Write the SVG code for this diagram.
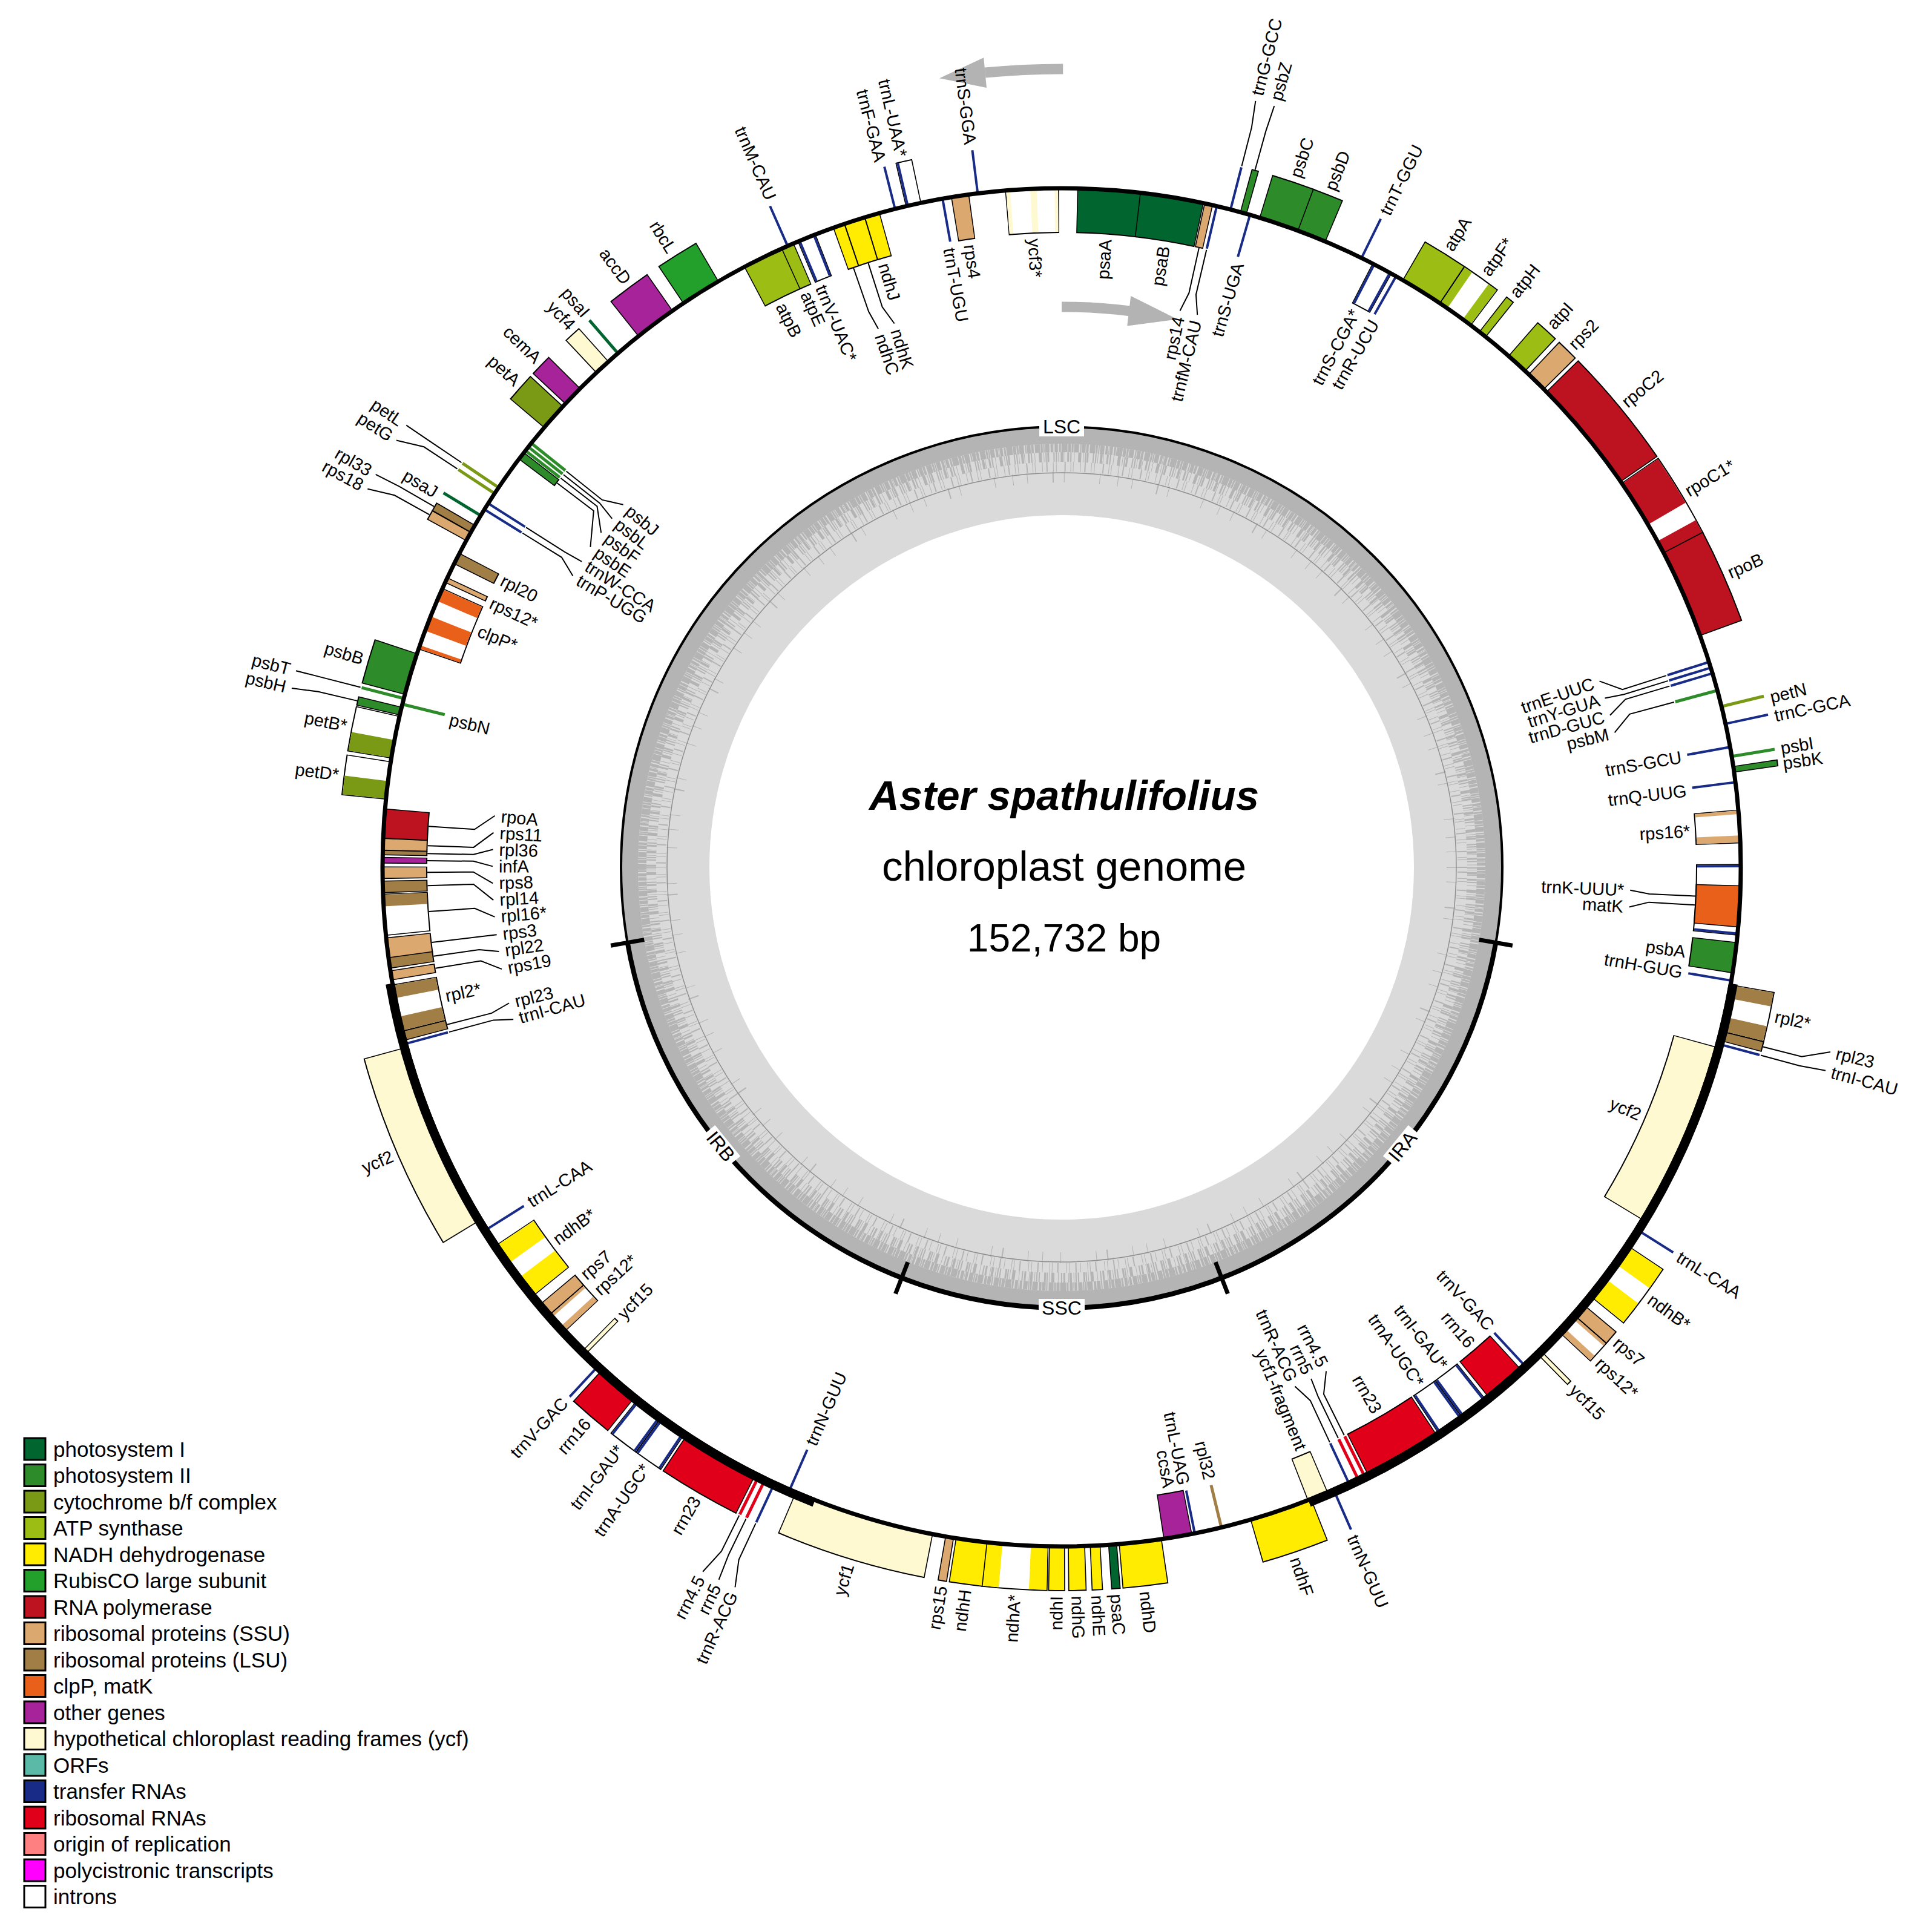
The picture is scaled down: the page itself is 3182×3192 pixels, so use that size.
<svg xmlns="http://www.w3.org/2000/svg" width="3182" height="3192" viewBox="0 0 3182 3192">
<style>
text{font-family:"Liberation Sans",Arial,Helvetica,sans-serif;font-size:29px;fill:#000;dominant-baseline:central}
.s{text-anchor:start}.e{text-anchor:end}.m{text-anchor:middle}
circle{fill:none}
.k{stroke:#000;stroke-width:76}
.f{stroke-width:72}
.PI{stroke:#00652e}.PII{stroke:#2e8b2a}.CY{stroke:#7a9a16}.AT{stroke:#9cbe14}.ND{stroke:#ffec00}.RB{stroke:#23a02b}.RP{stroke:#bd1321}.SS{stroke:#dba870}.LS{stroke:#a27e47}.CL{stroke:#e8601a}.OT{stroke:#a62399}.YC{stroke:#fff9d1}.RR{stroke:#e0001a}.W{stroke:#fff}.TR{stroke:#182b86}
line.t{stroke-width:4}
line.n{stroke-width:5}
.ld{fill:none;stroke:#000;stroke-width:2}
.rg{font-size:32px;text-anchor:middle}
.tt{font-size:69px;text-anchor:middle;dominant-baseline:alphabetic}
.lg{font-size:35px}
.lr{stroke:#000;stroke-width:3}
.dg{stroke:#b4b4b4}
</style>
<rect width="3182" height="3192" fill="#fff"/>
<g id="genome" transform="translate(1754 1433)">
<g id="gc">
<circle r="655" stroke="#dadada" stroke-width="146"/>
<circle r="714" class="dg" stroke-width="28"/>
<circle r="693" class="dg" stroke-width="14" stroke-dasharray="5 1 3 1 8 2 2 1 6 1 4 2 9 1 3 1 2 1 7 2 4 1 1 1 5 2 3 1 10 1"/>
<circle r="678" class="dg" stroke-width="16" stroke-dasharray="2 2 1 3 4 1 1 5 3 2 2 4 1 6 5 3 1 2 2 1 3 7 2 2"/>
<circle r="662" class="dg" stroke-width="16" stroke-dasharray="1 6 2 9 1 4 1 13 2 8 1 3 1 11"/>
<circle r="645" class="dg" stroke-width="18" stroke-dasharray="1 23 1 41 2 17 1 58 1 29"/>
<circle r="652" stroke="#8e8e8e" stroke-width="1.5"/>
</g>
<g id="inner-ring">
<circle r="728" stroke="#000" stroke-width="4"/>
<circle r="728" pathLength="360" stroke="#000" stroke-width="8" stroke-dasharray="160.32 360" transform="rotate(9.84)"/>
<line x1="0" y1="-700" x2="0" y2="-756" stroke="#000" stroke-width="7" transform="rotate(99.84)"/>
<line x1="0" y1="-700" x2="0" y2="-756" stroke="#000" stroke-width="7" transform="rotate(158.71)"/>
<line x1="0" y1="-700" x2="0" y2="-756" stroke="#000" stroke-width="7" transform="rotate(201.29)"/>
<line x1="0" y1="-700" x2="0" y2="-756" stroke="#000" stroke-width="7" transform="rotate(260.16)"/>
</g>
<g id="regions">
<g id="LSC"><rect x="-37" y="-744" width="74" height="32" fill="#fff"/><text class="rg" y="-728">LSC</text></g>
<g id="SSC"><rect x="-38" y="713" width="76" height="31" fill="#fff"/><text class="rg" y="728">SSC</text></g>
<g id="IRB" transform="rotate(50.7)"><rect x="-33" y="713" width="66" height="31" fill="#fff"/><text class="rg" y="728">IRB</text></g>
<g id="IRA" transform="rotate(-50.7)"><rect x="-33" y="713" width="66" height="31" fill="#fff"/><text class="rg" y="728">IRA</text></g>
</g>
<g id="arrows" fill="#b3b3b3">
<circle r="1319" pathLength="360" stroke="#b3b3b3" stroke-width="17" stroke-dasharray="5.6 360" transform="rotate(-95.5)"/>
<polygon transform="rotate(-5.5)" points="0,-1344 0,-1294 -76,-1317"/>
<circle r="926" pathLength="360" stroke="#b3b3b3" stroke-width="17" stroke-dasharray="7 360" transform="rotate(-90)"/>
<polygon transform="rotate(6.9)" points="0,-951 0,-901 81,-922"/>
</g>
<g id="genes">
<g id="ycf3"><circle r="1086" pathLength="360" class="k" stroke-dasharray="4.56 360" transform="rotate(-94.78)"/><circle r="1086" pathLength="360" class="f W" stroke-dasharray="4.4 360" transform="rotate(-94.7)"/><circle r="1086" pathLength="360" class="f YC" stroke-dasharray="0.35 360" transform="rotate(-94.7)"/><circle r="1086" pathLength="360" class="f YC" stroke-dasharray="0.55 360" transform="rotate(-92.65)"/><circle r="1086" pathLength="360" class="f YC" stroke-dasharray="0.3 360" transform="rotate(-90.6)"/><text class="s" x="-1040" transform="rotate(87.5)">ycf3*</text></g>
<g id="psaA"><circle r="1086" pathLength="360" class="k" stroke-dasharray="5.46 360" transform="rotate(-88.68)"/><circle r="1086" pathLength="360" class="f PI" stroke-dasharray="5.3 360" transform="rotate(-88.6)"/><text class="e" x="1040" transform="rotate(-86)">psaA</text></g>
<g id="psaB"><circle r="1086" pathLength="360" class="k" stroke-dasharray="5.46 360" transform="rotate(-83.38)"/><circle r="1086" pathLength="360" class="f PI" stroke-dasharray="5.3 360" transform="rotate(-83.3)"/><text class="e" x="1040" transform="rotate(-80.65)">psaB</text></g>
<g id="rps14"><circle r="1086" pathLength="360" class="k" stroke-dasharray="0.76 360" transform="rotate(-77.88)"/><circle r="1086" pathLength="360" class="f SS" stroke-dasharray="0.6 360" transform="rotate(-77.8)"/><text class="e" x="930" transform="rotate(-78)">rps14</text></g>
<g id="trnfM-CAU"><line class="t TR" y1="-1050" y2="-1122" transform="rotate(13.2)"/><text class="e" x="930" transform="rotate(-76.2)">trnfM-CAU</text></g>
<g id="trnG-GCC"><line class="t TR" y1="-1122" y2="-1194" transform="rotate(14.4)"/><text class="s" x="1316" transform="rotate(-75.8)">trnG-GCC</text></g>
<g id="psbZ"><circle r="1158" pathLength="360" class="k" stroke-dasharray="0.61 360" transform="rotate(-74.78)"/><circle r="1158" pathLength="360" class="f PII" stroke-dasharray="0.45 360" transform="rotate(-74.7)"/><text class="s" x="1316" transform="rotate(-74.4)">psbZ</text></g>
<g id="trnS-UGA"><line class="t TR" y1="-1050" y2="-1122" transform="rotate(16.1)"/><text class="e" x="1040" transform="rotate(-73.7)">trnS-UGA</text></g>
<g id="psbC"><circle r="1158" pathLength="360" class="k" stroke-dasharray="3.56 360" transform="rotate(-73.08)"/><circle r="1158" pathLength="360" class="f PII" stroke-dasharray="3.4 360" transform="rotate(-73)"/><text class="s" x="1204" transform="rotate(-71.3)">psbC</text></g>
<g id="psbD"><circle r="1158" pathLength="360" class="k" stroke-dasharray="2.56 360" transform="rotate(-69.68)"/><circle r="1158" pathLength="360" class="f PII" stroke-dasharray="2.4 360" transform="rotate(-69.6)"/><text class="s" x="1204" transform="rotate(-68.4)">psbD</text></g>
<g id="trnT-GGU"><line class="t TR" y1="-1122" y2="-1194" transform="rotate(26.2)"/><text class="s" x="1204" transform="rotate(-63.7)">trnT-GGU</text></g>
<g id="trnS-CGA"><circle r="1086" pathLength="360" class="k" stroke-dasharray="1.86 360" transform="rotate(-62.78)"/><circle r="1086" pathLength="360" class="f W" stroke-dasharray="1.7 360" transform="rotate(-62.7)"/><line class="t TR" y1="-1050" y2="-1122" transform="rotate(27.4)"/><line class="t TR" y1="-1050" y2="-1122" transform="rotate(28.9)"/><text class="e" x="1040" transform="rotate(-62.2)">trnS-CGA*</text></g>
<g id="trnR-UCU"><line class="t TR" y1="-1050" y2="-1122" transform="rotate(29.5)"/><text class="e" x="1040" transform="rotate(-60.2)">trnR-UCU</text></g>
<g id="atpA"><circle r="1158" pathLength="360" class="k" stroke-dasharray="3.76 360" transform="rotate(-59.88)"/><circle r="1158" pathLength="360" class="f AT" stroke-dasharray="3.6 360" transform="rotate(-59.8)"/><text class="s" x="1204" transform="rotate(-58)">atpA</text></g>
<g id="atpF"><circle r="1158" pathLength="360" class="k" stroke-dasharray="3.26 360" transform="rotate(-56.18)"/><circle r="1158" pathLength="360" class="f W" stroke-dasharray="3.1 360" transform="rotate(-56.1)"/><circle r="1158" pathLength="360" class="f AT" stroke-dasharray="0.7 360" transform="rotate(-56.1)"/><circle r="1158" pathLength="360" class="f AT" stroke-dasharray="0.8 360" transform="rotate(-53.8)"/><text class="s" x="1204" transform="rotate(-54.5)">atpF*</text></g>
<g id="atpH"><circle r="1158" pathLength="360" class="k" stroke-dasharray="0.76 360" transform="rotate(-52.08)"/><circle r="1158" pathLength="360" class="f AT" stroke-dasharray="0.6 360" transform="rotate(-52)"/><text class="s" x="1204" transform="rotate(-51.7)">atpH</text></g>
<g id="atpI"><circle r="1158" pathLength="360" class="k" stroke-dasharray="1.96 360" transform="rotate(-48.88)"/><circle r="1158" pathLength="360" class="f AT" stroke-dasharray="1.8 360" transform="rotate(-48.8)"/><text class="s" x="1204" transform="rotate(-47.9)">atpI</text></g>
<g id="rps2"><circle r="1158" pathLength="360" class="k" stroke-dasharray="1.86 360" transform="rotate(-46.58)"/><circle r="1158" pathLength="360" class="f SS" stroke-dasharray="1.7 360" transform="rotate(-46.5)"/><text class="s" x="1204" transform="rotate(-45.6)">rps2</text></g>
<g id="rpoC2"><circle r="1158" pathLength="360" class="k" stroke-dasharray="9.91 360" transform="rotate(-44.48)"/><circle r="1158" pathLength="360" class="f RP" stroke-dasharray="9.75 360" transform="rotate(-44.4)"/><text class="s" x="1204" transform="rotate(-39.5)">rpoC2</text></g>
<g id="rpoC1"><circle r="1158" pathLength="360" class="k" stroke-dasharray="6.96 360" transform="rotate(-34.48)"/><circle r="1158" pathLength="360" class="f W" stroke-dasharray="6.8 360" transform="rotate(-34.4)"/><circle r="1158" pathLength="360" class="f RP" stroke-dasharray="4.1 360" transform="rotate(-34.4)"/><circle r="1158" pathLength="360" class="f RP" stroke-dasharray="1.1 360" transform="rotate(-28.7)"/><text class="s" x="1204" transform="rotate(-31)">rpoC1*</text></g>
<g id="rpoB"><circle r="1158" pathLength="360" class="k" stroke-dasharray="7.71 360" transform="rotate(-27.63)"/><circle r="1158" pathLength="360" class="f RP" stroke-dasharray="7.55 360" transform="rotate(-27.55)"/><text class="s" x="1204" transform="rotate(-23.8)">rpoB</text></g>
<g id="trnE-UUC"><line class="t TR" y1="-1050" y2="-1122" transform="rotate(72.4)"/><text class="e" x="930" transform="rotate(-19.1)">trnE-UUC</text></g>
<g id="trnY-GUA"><line class="t TR" y1="-1050" y2="-1122" transform="rotate(72.9)"/><text class="e" x="930" transform="rotate(-17.3)">trnY-GUA</text></g>
<g id="trnD-GUC"><line class="t TR" y1="-1050" y2="-1122" transform="rotate(73.4)"/><text class="e" x="930" transform="rotate(-15.5)">trnD-GUC</text></g>
<g id="psbM"><line class="n PII" y1="-1050" y2="-1122" transform="rotate(74.9)"/><text class="e" x="930" transform="rotate(-13.7)">psbM</text></g>
<g id="petN"><line class="n CY" y1="-1122" y2="-1194" transform="rotate(76.3)"/><text class="s" x="1204" transform="rotate(-13.5)">petN</text></g>
<g id="trnC-GCA"><line class="t TR" y1="-1122" y2="-1194" transform="rotate(77.8)"/><text class="s" x="1204" transform="rotate(-12)">trnC-GCA</text></g>
<g id="trnS-GCU"><line class="t TR" y1="-1050" y2="-1122" transform="rotate(79.8)"/><text class="e" x="1040" transform="rotate(-10.1)">trnS-GCU</text></g>
<g id="psbI"><line class="n PII" y1="-1122" y2="-1194" transform="rotate(80.6)"/><text class="s" x="1204" transform="rotate(-9.4)">psbI</text></g>
<g id="psbK"><circle r="1158" pathLength="360" class="k" stroke-dasharray="0.56 360" transform="rotate(-8.58)"/><circle r="1158" pathLength="360" class="f PII" stroke-dasharray="0.4 360" transform="rotate(-8.5)"/><text class="s" x="1204" transform="rotate(-8.2)">psbK</text></g>
<g id="trnQ-UUG"><line class="t TR" y1="-1050" y2="-1122" transform="rotate(82.8)"/><text class="e" x="1040" transform="rotate(-7)">trnQ-UUG</text></g>
<g id="rps16"><circle r="1086" pathLength="360" class="k" stroke-dasharray="2.86 360" transform="rotate(-4.88)"/><circle r="1086" pathLength="360" class="f W" stroke-dasharray="2.7 360" transform="rotate(-4.8)"/><circle r="1086" pathLength="360" class="f SS" stroke-dasharray="0.3 360" transform="rotate(-4.8)"/><circle r="1086" pathLength="360" class="f SS" stroke-dasharray="0.6 360" transform="rotate(-2.7)"/><text class="e" x="1040" transform="rotate(-3.3)">rps16*</text></g>
<g id="trnK-UUU"><circle r="1086" pathLength="360" class="k" stroke-dasharray="6.06 360" transform="rotate(-0.28)"/><circle r="1086" pathLength="360" class="f W" stroke-dasharray="5.9 360" transform="rotate(-0.2)"/><line class="t TR" y1="-1050" y2="-1122" transform="rotate(89.9)"/><line class="t TR" y1="-1050" y2="-1122" transform="rotate(95.6)"/><text class="e" x="930" transform="rotate(2.3)">trnK-UUU*</text></g>
<g id="matK"><circle r="1086" pathLength="360" class="k" stroke-dasharray="3.56 360" transform="rotate(1.52)"/><circle r="1086" pathLength="360" class="f CL" stroke-dasharray="3.4 360" transform="rotate(1.6)"/><text class="e" x="930" transform="rotate(4)">matK</text></g>
<g id="psbA"><circle r="1086" pathLength="360" class="k" stroke-dasharray="2.66 360" transform="rotate(6.32)"/><circle r="1086" pathLength="360" class="f PII" stroke-dasharray="2.5 360" transform="rotate(6.4)"/><text class="e" x="1040" transform="rotate(7.7)">psbA</text></g>
<g id="trnH-GUG"><line class="t TR" y1="-1050" y2="-1122" transform="rotate(99.6)"/><text class="e" x="1040" transform="rotate(9.6)">trnH-GUG</text></g>
<g id="rpl2-A"><circle r="1158" pathLength="360" class="k" stroke-dasharray="4.06 360" transform="rotate(9.92)"/><circle r="1158" pathLength="360" class="f W" stroke-dasharray="3.9 360" transform="rotate(10)"/><circle r="1158" pathLength="360" class="f LS" stroke-dasharray="1.1 360" transform="rotate(10)"/><circle r="1158" pathLength="360" class="f LS" stroke-dasharray="1.2 360" transform="rotate(12.7)"/><text class="s" x="1204" transform="rotate(11.8)">rpl2*</text></g>
<g id="rpl23-A"><circle r="1158" pathLength="360" class="k" stroke-dasharray="0.86 360" transform="rotate(13.92)"/><circle r="1158" pathLength="360" class="f LS" stroke-dasharray="0.7 360" transform="rotate(14)"/><text class="s" x="1316" transform="rotate(13.5)">rpl23</text></g>
<g id="trnI-CAU-A"><line class="t TR" y1="-1122" y2="-1194" transform="rotate(105.05)"/><text class="s" x="1316" transform="rotate(14.9)">trnI-CAU</text></g>
<g id="ycf2-A"><circle r="1086" pathLength="360" class="k" stroke-dasharray="15.96 360" transform="rotate(15.32)"/><circle r="1086" pathLength="360" class="f YC" stroke-dasharray="15.8 360" transform="rotate(15.4)"/><text class="e" x="1040" transform="rotate(23.2)">ycf2</text></g>
<g id="trnL-CAA-A"><line class="t TR" y1="-1122" y2="-1194" transform="rotate(122.2)"/><text class="s" x="1204" transform="rotate(32.2)">trnL-CAA</text></g>
<g id="ndhB-A"><circle r="1158" pathLength="360" class="k" stroke-dasharray="5.36 360" transform="rotate(33.72)"/><circle r="1158" pathLength="360" class="f W" stroke-dasharray="5.2 360" transform="rotate(33.8)"/><circle r="1158" pathLength="360" class="f ND" stroke-dasharray="1.8 360" transform="rotate(33.8)"/><circle r="1158" pathLength="360" class="f ND" stroke-dasharray="1.9 360" transform="rotate(37.1)"/><text class="s" x="1204" transform="rotate(36.2)">ndhB*</text></g>
<g id="rps7-A"><circle r="1158" pathLength="360" class="k" stroke-dasharray="1.26 360" transform="rotate(39.92)"/><circle r="1158" pathLength="360" class="f SS" stroke-dasharray="1.1 360" transform="rotate(40)"/><text class="s" x="1204" transform="rotate(40.5)">rps7</text></g>
<g id="rps12-A"><circle r="1158" pathLength="360" class="k" stroke-dasharray="1.96 360" transform="rotate(41.12)"/><circle r="1158" pathLength="360" class="f W" stroke-dasharray="1.8 360" transform="rotate(41.2)"/><circle r="1158" pathLength="360" class="f SS" stroke-dasharray="0.25 360" transform="rotate(41.2)"/><circle r="1158" pathLength="360" class="f SS" stroke-dasharray="0.5 360" transform="rotate(42.5)"/><text class="s" x="1204" transform="rotate(42.6)">rps12*</text></g>
<g id="ycf15-A"><circle r="1158" pathLength="360" class="k" stroke-dasharray="0.46 360" transform="rotate(45.22)"/><circle r="1158" pathLength="360" class="f YC" stroke-dasharray="0.3 360" transform="rotate(45.3)"/><text class="s" x="1204" transform="rotate(45.5)">ycf15</text></g>
<g id="trnV-GAC-A"><line class="t TR" y1="-1050" y2="-1122" transform="rotate(137.1)"/><text class="e" x="1040" transform="rotate(47)">trnV-GAC</text></g>
<g id="rrn16-A"><circle r="1086" pathLength="360" class="k" stroke-dasharray="3.66 360" transform="rotate(47.52)"/><circle r="1086" pathLength="360" class="f RR" stroke-dasharray="3.5 360" transform="rotate(47.6)"/><text class="e" x="1040" transform="rotate(49.4)">rrn16</text></g>
<g id="trnI-GAU-A"><circle r="1086" pathLength="360" class="k" stroke-dasharray="2.56 360" transform="rotate(51.42)"/><circle r="1086" pathLength="360" class="f W" stroke-dasharray="2.4 360" transform="rotate(51.5)"/><line class="t TR" y1="-1050" y2="-1122" transform="rotate(141.6)"/><line class="t TR" y1="-1050" y2="-1122" transform="rotate(143.8)"/><text class="e" x="1040" transform="rotate(52.6)">trnI-GAU*</text></g>
<g id="trnA-UGC-A"><circle r="1086" pathLength="360" class="k" stroke-dasharray="2.46 360" transform="rotate(53.92)"/><circle r="1086" pathLength="360" class="f W" stroke-dasharray="2.3 360" transform="rotate(54)"/><line class="t TR" y1="-1050" y2="-1122" transform="rotate(144.1)"/><line class="t TR" y1="-1050" y2="-1122" transform="rotate(146.2)"/><text class="e" x="1040" transform="rotate(55.3)">trnA-UGC*</text></g>
<g id="rrn23-A"><circle r="1086" pathLength="360" class="k" stroke-dasharray="6.76 360" transform="rotate(56.52)"/><circle r="1086" pathLength="360" class="f RR" stroke-dasharray="6.6 360" transform="rotate(56.6)"/><text class="e" x="1040" transform="rotate(59.9)">rrn23</text></g>
<g id="rrn4.5-A"><line class="n RR" y1="-1050" y2="-1122" transform="rotate(153.55)"/><text class="e" x="930" transform="rotate(62.3)">rrn4.5</text></g>
<g id="rrn5-A"><line class="n RR" y1="-1050" y2="-1122" transform="rotate(154.15)"/><text class="e" x="930" transform="rotate(64)">rrn5</text></g>
<g id="trnR-ACG-A"><line class="t TR" y1="-1050" y2="-1122" transform="rotate(155)"/><text class="e" x="930" transform="rotate(65.8)">trnR-ACG</text></g>
<g id="trnN-GUU-A"><line class="t TR" y1="-1122" y2="-1194" transform="rotate(156.4)"/><text class="s" x="1204" transform="rotate(66.5)">trnN-GUU</text></g>
<g id="ycf1-fragment"><circle r="1086" pathLength="360" class="k" stroke-dasharray="1.86 360" transform="rotate(66.92)"/><circle r="1086" pathLength="360" class="f YC" stroke-dasharray="1.7 360" transform="rotate(67)"/><text class="e" x="1040" transform="rotate(67.6)">ycf1-fragment</text></g>
<g id="ndhF"><circle r="1158" pathLength="360" class="k" stroke-dasharray="5.46 360" transform="rotate(68.42)"/><circle r="1158" pathLength="360" class="f ND" stroke-dasharray="5.3 360" transform="rotate(68.5)"/><text class="s" x="1204" transform="rotate(71.3)">ndhF</text></g>
<g id="rpl32"><line class="n LS" y1="-1050" y2="-1122" transform="rotate(166.4)"/><text class="e" x="1040" transform="rotate(76.4)">rpl32</text></g>
<g id="trnL-UAG"><line class="t TR" y1="-1050" y2="-1122" transform="rotate(168.7)"/><text class="e" x="1040" transform="rotate(78.8)">trnL-UAG</text></g>
<g id="ccsA"><circle r="1086" pathLength="360" class="k" stroke-dasharray="2.46 360" transform="rotate(78.92)"/><circle r="1086" pathLength="360" class="f OT" stroke-dasharray="2.3 360" transform="rotate(79)"/><text class="e" x="1040" transform="rotate(80.2)">ccsA</text></g>
<g id="ndhD"><circle r="1158" pathLength="360" class="k" stroke-dasharray="3.66 360" transform="rotate(81.52)"/><circle r="1158" pathLength="360" class="f ND" stroke-dasharray="3.5 360" transform="rotate(81.6)"/><text class="s" x="1204" transform="rotate(83.4)">ndhD</text></g>
<g id="psaC"><circle r="1158" pathLength="360" class="k" stroke-dasharray="0.76 360" transform="rotate(85.32)"/><circle r="1158" pathLength="360" class="f PI" stroke-dasharray="0.6 360" transform="rotate(85.4)"/><text class="s" x="1204" transform="rotate(85.7)">psaC</text></g>
<g id="ndhE"><circle r="1158" pathLength="360" class="k" stroke-dasharray="0.91 360" transform="rotate(86.72)"/><circle r="1158" pathLength="360" class="f ND" stroke-dasharray="0.75 360" transform="rotate(86.8)"/><text class="s" x="1204" transform="rotate(87.2)">ndhE</text></g>
<g id="ndhG"><circle r="1158" pathLength="360" class="k" stroke-dasharray="1.46 360" transform="rotate(88.02)"/><circle r="1158" pathLength="360" class="f ND" stroke-dasharray="1.3 360" transform="rotate(88.1)"/><text class="s" x="1204" transform="rotate(88.75)">ndhG</text></g>
<g id="ndhI"><circle r="1158" pathLength="360" class="k" stroke-dasharray="1.36 360" transform="rotate(89.72)"/><circle r="1158" pathLength="360" class="f ND" stroke-dasharray="1.2 360" transform="rotate(89.8)"/><text class="e" x="-1204" transform="rotate(-89.6)">ndhI</text></g>
<g id="ndhA"><circle r="1158" pathLength="360" class="k" stroke-dasharray="5.26 360" transform="rotate(91.12)"/><circle r="1158" pathLength="360" class="f W" stroke-dasharray="5.1 360" transform="rotate(91.2)"/><circle r="1158" pathLength="360" class="f ND" stroke-dasharray="1.4 360" transform="rotate(91.2)"/><circle r="1158" pathLength="360" class="f ND" stroke-dasharray="1.3 360" transform="rotate(95)"/><text class="e" x="-1204" transform="rotate(-86.3)">ndhA*</text></g>
<g id="ndhH"><circle r="1158" pathLength="360" class="k" stroke-dasharray="2.71 360" transform="rotate(96.27)"/><circle r="1158" pathLength="360" class="f ND" stroke-dasharray="2.55 360" transform="rotate(96.35)"/><text class="e" x="-1204" transform="rotate(-82.4)">ndhH</text></g>
<g id="rps15"><circle r="1158" pathLength="360" class="k" stroke-dasharray="0.76 360" transform="rotate(99.12)"/><circle r="1158" pathLength="360" class="f SS" stroke-dasharray="0.6 360" transform="rotate(99.2)"/><text class="e" x="-1204" transform="rotate(-80.5)">rps15</text></g>
<g id="ycf1"><circle r="1158" pathLength="360" class="k" stroke-dasharray="12.16 360" transform="rotate(100.92)"/><circle r="1158" pathLength="360" class="f YC" stroke-dasharray="12 360" transform="rotate(101)"/><text class="e" x="-1204" transform="rotate(-73)">ycf1</text></g>
<g id="trnN-GUU-B"><line class="t TR" y1="-1050" y2="-1122" transform="rotate(203.6)"/><text class="s" x="-1040" transform="rotate(-66.5)">trnN-GUU</text></g>
<g id="trnR-ACG-B"><line class="t TR" y1="-1122" y2="-1194" transform="rotate(205)"/><text class="e" x="-1316" transform="rotate(-65.6)">trnR-ACG</text></g>
<g id="rrn5-B"><line class="n RR" y1="-1122" y2="-1194" transform="rotate(205.85)"/><text class="e" x="-1316" transform="rotate(-64.3)">rrn5</text></g>
<g id="rrn4.5-B"><line class="n RR" y1="-1122" y2="-1194" transform="rotate(206.45)"/><text class="e" x="-1316" transform="rotate(-63)">rrn4.5</text></g>
<g id="rrn23-B"><circle r="1158" pathLength="360" class="k" stroke-dasharray="6.76 360" transform="rotate(116.72)"/><circle r="1158" pathLength="360" class="f RR" stroke-dasharray="6.6 360" transform="rotate(116.8)"/><text class="e" x="-1204" transform="rotate(-59.9)">rrn23</text></g>
<g id="trnA-UGC-B"><circle r="1158" pathLength="360" class="k" stroke-dasharray="2.46 360" transform="rotate(123.62)"/><circle r="1158" pathLength="360" class="f W" stroke-dasharray="2.3 360" transform="rotate(123.7)"/><line class="t TR" y1="-1122" y2="-1194" transform="rotate(213.8)"/><line class="t TR" y1="-1122" y2="-1194" transform="rotate(215.9)"/><text class="e" x="-1204" transform="rotate(-55.2)">trnA-UGC*</text></g>
<g id="trnI-GAU-B"><circle r="1158" pathLength="360" class="k" stroke-dasharray="2.56 360" transform="rotate(126.02)"/><circle r="1158" pathLength="360" class="f W" stroke-dasharray="2.4 360" transform="rotate(126.1)"/><line class="t TR" y1="-1122" y2="-1194" transform="rotate(216.2)"/><line class="t TR" y1="-1122" y2="-1194" transform="rotate(218.4)"/><text class="e" x="-1204" transform="rotate(-52.7)">trnI-GAU*</text></g>
<g id="rrn16-B"><circle r="1158" pathLength="360" class="k" stroke-dasharray="3.66 360" transform="rotate(128.82)"/><circle r="1158" pathLength="360" class="f RR" stroke-dasharray="3.5 360" transform="rotate(128.9)"/><text class="e" x="-1204" transform="rotate(-49.4)">rrn16</text></g>
<g id="trnV-GAC-B"><line class="t TR" y1="-1122" y2="-1194" transform="rotate(222.9)"/><text class="e" x="-1204" transform="rotate(-47)">trnV-GAC</text></g>
<g id="ycf15-B"><circle r="1086" pathLength="360" class="k" stroke-dasharray="0.46 360" transform="rotate(134.32)"/><circle r="1086" pathLength="360" class="f YC" stroke-dasharray="0.3 360" transform="rotate(134.4)"/><text class="s" x="-1040" transform="rotate(-45.5)">ycf15</text></g>
<g id="rps12-B"><circle r="1086" pathLength="360" class="k" stroke-dasharray="1.96 360" transform="rotate(136.92)"/><circle r="1086" pathLength="360" class="f W" stroke-dasharray="1.8 360" transform="rotate(137)"/><circle r="1086" pathLength="360" class="f SS" stroke-dasharray="0.5 360" transform="rotate(137)"/><circle r="1086" pathLength="360" class="f SS" stroke-dasharray="0.25 360" transform="rotate(138.55)"/><text class="s" x="-1040" transform="rotate(-42.4)">rps12*</text></g>
<g id="rps7-B"><circle r="1086" pathLength="360" class="k" stroke-dasharray="1.26 360" transform="rotate(138.82)"/><circle r="1086" pathLength="360" class="f SS" stroke-dasharray="1.1 360" transform="rotate(138.9)"/><text class="s" x="-1040" transform="rotate(-40.5)">rps7</text></g>
<g id="ndhB-B"><circle r="1086" pathLength="360" class="k" stroke-dasharray="5.36 360" transform="rotate(140.92)"/><circle r="1086" pathLength="360" class="f W" stroke-dasharray="5.2 360" transform="rotate(141)"/><circle r="1086" pathLength="360" class="f ND" stroke-dasharray="1.9 360" transform="rotate(141)"/><circle r="1086" pathLength="360" class="f ND" stroke-dasharray="1.8 360" transform="rotate(144.4)"/><text class="s" x="-1040" transform="rotate(-36.4)">ndhB*</text></g>
<g id="trnL-CAA-B"><line class="t TR" y1="-1050" y2="-1122" transform="rotate(237.8)"/><text class="s" x="-1040" transform="rotate(-32.2)">trnL-CAA</text></g>
<g id="ycf2-B"><circle r="1158" pathLength="360" class="k" stroke-dasharray="15.96 360" transform="rotate(148.72)"/><circle r="1158" pathLength="360" class="f YC" stroke-dasharray="15.8 360" transform="rotate(148.8)"/><text class="e" x="-1204" transform="rotate(-23.3)">ycf2</text></g>
<g id="trnI-CAU-B"><line class="t TR" y1="-1050" y2="-1122" transform="rotate(254.95)"/><text class="s" x="-930" transform="rotate(-15.5)">trnI-CAU</text></g>
<g id="rpl23-B"><circle r="1086" pathLength="360" class="k" stroke-dasharray="0.86 360" transform="rotate(165.22)"/><circle r="1086" pathLength="360" class="f LS" stroke-dasharray="0.7 360" transform="rotate(165.3)"/><text class="s" x="-930" transform="rotate(-13.8)">rpl23</text></g>
<g id="rpl2-B"><circle r="1086" pathLength="360" class="k" stroke-dasharray="4.06 360" transform="rotate(166.02)"/><circle r="1086" pathLength="360" class="f W" stroke-dasharray="3.9 360" transform="rotate(166.1)"/><circle r="1086" pathLength="360" class="f LS" stroke-dasharray="1.2 360" transform="rotate(166.1)"/><circle r="1086" pathLength="360" class="f LS" stroke-dasharray="1.1 360" transform="rotate(168.9)"/><text class="s" x="-1040" transform="rotate(-11.8)">rpl2*</text></g>
<g id="rps19"><circle r="1086" pathLength="360" class="k" stroke-dasharray="0.86 360" transform="rotate(170.42)"/><circle r="1086" pathLength="360" class="f SS" stroke-dasharray="0.7 360" transform="rotate(170.5)"/><text class="s" x="-930" transform="rotate(-10.3)">rps19</text></g>
<g id="rpl22"><circle r="1086" pathLength="360" class="k" stroke-dasharray="1.06 360" transform="rotate(171.42)"/><circle r="1086" pathLength="360" class="f LS" stroke-dasharray="0.9 360" transform="rotate(171.5)"/><text class="s" x="-930" transform="rotate(-8.5)">rpl22</text></g>
<g id="rps3"><circle r="1086" pathLength="360" class="k" stroke-dasharray="1.76 360" transform="rotate(172.32)"/><circle r="1086" pathLength="360" class="f SS" stroke-dasharray="1.6 360" transform="rotate(172.4)"/><text class="s" x="-930" transform="rotate(-6.8)">rps3</text></g>
<g id="rpl16"><circle r="1086" pathLength="360" class="k" stroke-dasharray="3.56 360" transform="rotate(174.22)"/><circle r="1086" pathLength="360" class="f W" stroke-dasharray="3.4 360" transform="rotate(174.3)"/><circle r="1086" pathLength="360" class="f LS" stroke-dasharray="1 360" transform="rotate(176.7)"/><text class="s" x="-930" transform="rotate(-5)">rpl16*</text></g>
<g id="rpl14"><circle r="1086" pathLength="360" class="k" stroke-dasharray="1.06 360" transform="rotate(177.82)"/><circle r="1086" pathLength="360" class="f LS" stroke-dasharray="0.9 360" transform="rotate(177.9)"/><text class="s" x="-930" transform="rotate(-3.3)">rpl14</text></g>
<g id="rps8"><circle r="1086" pathLength="360" class="k" stroke-dasharray="1.06 360" transform="rotate(179.02)"/><circle r="1086" pathLength="360" class="f SS" stroke-dasharray="0.9 360" transform="rotate(179.1)"/><text class="s" x="-930" transform="rotate(-1.6)">rps8</text></g>
<g id="infA"><circle r="1086" pathLength="360" class="k" stroke-dasharray="0.56 360" transform="rotate(180.32)"/><circle r="1086" pathLength="360" class="f OT" stroke-dasharray="0.4 360" transform="rotate(180.4)"/><text class="s" x="-930" transform="rotate(0.1)">infA</text></g>
<g id="rpl36"><circle r="1086" pathLength="360" class="k" stroke-dasharray="0.46 360" transform="rotate(181.02)"/><circle r="1086" pathLength="360" class="f LS" stroke-dasharray="0.3 360" transform="rotate(181.1)"/><text class="s" x="-930" transform="rotate(1.8)">rpl36</text></g>
<g id="rps11"><circle r="1086" pathLength="360" class="k" stroke-dasharray="1.06 360" transform="rotate(181.42)"/><circle r="1086" pathLength="360" class="f SS" stroke-dasharray="0.9 360" transform="rotate(181.5)"/><text class="s" x="-930" transform="rotate(3.5)">rps11</text></g>
<g id="rpoA"><circle r="1086" pathLength="360" class="k" stroke-dasharray="2.56 360" transform="rotate(182.42)"/><circle r="1086" pathLength="360" class="f RP" stroke-dasharray="2.4 360" transform="rotate(182.5)"/><text class="s" x="-930" transform="rotate(5.2)">rpoA</text></g>
<g id="petD"><circle r="1158" pathLength="360" class="k" stroke-dasharray="3.26 360" transform="rotate(185.72)"/><circle r="1158" pathLength="360" class="f W" stroke-dasharray="3.1 360" transform="rotate(185.8)"/><circle r="1158" pathLength="360" class="f CY" stroke-dasharray="1.5 360" transform="rotate(185.8)"/><text class="e" x="-1204" transform="rotate(7.3)">petD*</text></g>
<g id="petB"><circle r="1158" pathLength="360" class="k" stroke-dasharray="3.66 360" transform="rotate(189.22)"/><circle r="1158" pathLength="360" class="f W" stroke-dasharray="3.5 360" transform="rotate(189.3)"/><circle r="1158" pathLength="360" class="f CY" stroke-dasharray="1.5 360" transform="rotate(189.3)"/><text class="e" x="-1204" transform="rotate(11.2)">petB*</text></g>
<g id="psbH"><circle r="1158" pathLength="360" class="k" stroke-dasharray="0.76 360" transform="rotate(192.92)"/><circle r="1158" pathLength="360" class="f PII" stroke-dasharray="0.6 360" transform="rotate(193)"/><text class="e" x="-1316" transform="rotate(13.1)">psbH</text></g>
<g id="psbN"><line class="n PII" y1="-1050" y2="-1122" transform="rotate(283.9)"/><text class="s" x="-1040" transform="rotate(13.6)">psbN</text></g>
<g id="psbT"><line class="n PII" y1="-1122" y2="-1194" transform="rotate(284.4)"/><text class="e" x="-1316" transform="rotate(14.4)">psbT</text></g>
<g id="psbB"><circle r="1158" pathLength="360" class="k" stroke-dasharray="3.66 360" transform="rotate(194.72)"/><circle r="1158" pathLength="360" class="f PII" stroke-dasharray="3.5 360" transform="rotate(194.8)"/><text class="e" x="-1204" transform="rotate(16.6)">psbB</text></g>
<g id="clpP"><circle r="1086" pathLength="360" class="k" stroke-dasharray="5.56 360" transform="rotate(198.72)"/><circle r="1086" pathLength="360" class="f W" stroke-dasharray="5.4 360" transform="rotate(198.8)"/><circle r="1086" pathLength="360" class="f CL" stroke-dasharray="0.3 360" transform="rotate(198.8)"/><circle r="1086" pathLength="360" class="f CL" stroke-dasharray="1.3 360" transform="rotate(200.4)"/><circle r="1086" pathLength="360" class="f CL" stroke-dasharray="1.1 360" transform="rotate(203.1)"/><text class="s" x="-1040" transform="rotate(22.1)">clpP*</text></g>
<g id="rps12-5"><circle r="1086" pathLength="360" class="k" stroke-dasharray="0.51 360" transform="rotate(204.77)"/><circle r="1086" pathLength="360" class="f SS" stroke-dasharray="0.35 360" transform="rotate(204.85)"/><text class="s" x="-1040" transform="rotate(24.9)">rps12*</text></g>
<g id="rpl20"><circle r="1086" pathLength="360" class="k" stroke-dasharray="1.06 360" transform="rotate(206.52)"/><circle r="1086" pathLength="360" class="f LS" stroke-dasharray="0.9 360" transform="rotate(206.6)"/><text class="s" x="-1040" transform="rotate(27.2)">rpl20</text></g>
<g id="rps18"><circle r="1158" pathLength="360" class="k" stroke-dasharray="0.86 360" transform="rotate(208.72)"/><circle r="1158" pathLength="360" class="f SS" stroke-dasharray="0.7 360" transform="rotate(208.8)"/><text class="e" x="-1316" transform="rotate(28.6)">rps18</text></g>
<g id="rpl33"><circle r="1158" pathLength="360" class="k" stroke-dasharray="0.76 360" transform="rotate(209.52)"/><circle r="1158" pathLength="360" class="f LS" stroke-dasharray="0.6 360" transform="rotate(209.6)"/><text class="e" x="-1316" transform="rotate(29.8)">rpl33</text></g>
<g id="psaJ"><line class="n PI" y1="-1122" y2="-1194" transform="rotate(301.2)"/><text class="e" x="-1204" transform="rotate(30.9)">psaJ</text></g>
<g id="trnP-UGG"><line class="t TR" y1="-1050" y2="-1122" transform="rotate(301.8)"/><text class="s" x="-930" transform="rotate(30.8)">trnP-UGG</text></g>
<g id="trnW-CCA"><line class="t TR" y1="-1050" y2="-1122" transform="rotate(302.4)"/><text class="s" x="-930" transform="rotate(32.5)">trnW-CCA</text></g>
<g id="petG"><line class="n CY" y1="-1122" y2="-1194" transform="rotate(303.4)"/><text class="e" x="-1316" transform="rotate(32.7)">petG</text></g>
<g id="petL"><line class="n CY" y1="-1122" y2="-1194" transform="rotate(304)"/><text class="e" x="-1316" transform="rotate(34)">petL</text></g>
<g id="psbE"><circle r="1086" pathLength="360" class="k" stroke-dasharray="0.76 360" transform="rotate(216.92)"/><circle r="1086" pathLength="360" class="f PII" stroke-dasharray="0.6 360" transform="rotate(217)"/><text class="s" x="-930" transform="rotate(34.2)">psbE</text></g>
<g id="psbF"><line class="n PII" y1="-1050" y2="-1122" transform="rotate(307.85)"/><text class="s" x="-930" transform="rotate(36)">psbF</text></g>
<g id="psbL"><line class="n PII" y1="-1050" y2="-1122" transform="rotate(308.25)"/><text class="s" x="-930" transform="rotate(37.8)">psbL</text></g>
<g id="psbJ"><line class="n PII" y1="-1050" y2="-1122" transform="rotate(308.65)"/><text class="s" x="-930" transform="rotate(39.6)">psbJ</text></g>
<g id="petA"><circle r="1158" pathLength="360" class="k" stroke-dasharray="2.46 360" transform="rotate(220.32)"/><circle r="1158" pathLength="360" class="f CY" stroke-dasharray="2.3 360" transform="rotate(220.4)"/><text class="e" x="-1204" transform="rotate(41.7)">petA</text></g>
<g id="cemA"><circle r="1158" pathLength="360" class="k" stroke-dasharray="1.86 360" transform="rotate(223.02)"/><circle r="1158" pathLength="360" class="f OT" stroke-dasharray="1.7 360" transform="rotate(223.1)"/><text class="e" x="-1204" transform="rotate(44.1)">cemA</text></g>
<g id="ycf4"><circle r="1158" pathLength="360" class="k" stroke-dasharray="1.46 360" transform="rotate(226.72)"/><circle r="1158" pathLength="360" class="f YC" stroke-dasharray="1.3 360" transform="rotate(226.8)"/><text class="e" x="-1204" transform="rotate(47.8)">ycf4</text></g>
<g id="psaI"><line class="n PI" y1="-1122" y2="-1194" transform="rotate(319.2)"/><text class="e" x="-1204" transform="rotate(49.3)">psaI</text></g>
<g id="accD"><circle r="1158" pathLength="360" class="k" stroke-dasharray="3.66 360" transform="rotate(231.42)"/><circle r="1158" pathLength="360" class="f OT" stroke-dasharray="3.5 360" transform="rotate(231.5)"/><text class="e" x="-1204" transform="rotate(53.4)">accD</text></g>
<g id="rbcL"><circle r="1158" pathLength="360" class="k" stroke-dasharray="3.56 360" transform="rotate(236.12)"/><circle r="1158" pathLength="360" class="f RB" stroke-dasharray="3.4 360" transform="rotate(236.2)"/><text class="e" x="-1204" transform="rotate(57.7)">rbcL</text></g>
<g id="atpB"><circle r="1086" pathLength="360" class="k" stroke-dasharray="3.66 360" transform="rotate(242.12)"/><circle r="1086" pathLength="360" class="f AT" stroke-dasharray="3.5 360" transform="rotate(242.2)"/><text class="s" x="-1040" transform="rotate(63.5)">atpB</text></g>
<g id="atpE"><circle r="1086" pathLength="360" class="k" stroke-dasharray="1.16 360" transform="rotate(245.62)"/><circle r="1086" pathLength="360" class="f AT" stroke-dasharray="1 360" transform="rotate(245.7)"/><text class="s" x="-1040" transform="rotate(66)">atpE</text></g>
<g id="trnM-CAU"><line class="t TR" y1="-1122" y2="-1194" transform="rotate(336.2)"/><text class="e" x="-1204" transform="rotate(66.5)">trnM-CAU</text></g>
<g id="trnV-UAC"><circle r="1086" pathLength="360" class="k" stroke-dasharray="1.66 360" transform="rotate(247.12)"/><circle r="1086" pathLength="360" class="f W" stroke-dasharray="1.5 360" transform="rotate(247.2)"/><line class="t TR" y1="-1050" y2="-1122" transform="rotate(337.3)"/><line class="t TR" y1="-1050" y2="-1122" transform="rotate(338.6)"/><text class="s" x="-1040" transform="rotate(67.5)">trnV-UAC*</text></g>
<g id="ndhC"><circle r="1086" pathLength="360" class="k" stroke-dasharray="1.06 360" transform="rotate(250.32)"/><circle r="1086" pathLength="360" class="f ND" stroke-dasharray="0.9 360" transform="rotate(250.4)"/><text class="s" x="-930" transform="rotate(71.2)">ndhC</text></g>
<g id="ndhK"><circle r="1086" pathLength="360" class="k" stroke-dasharray="1.86 360" transform="rotate(251.32)"/><circle r="1086" pathLength="360" class="f ND" stroke-dasharray="1.7 360" transform="rotate(251.4)"/><text class="s" x="-930" transform="rotate(72.9)">ndhK</text></g>
<g id="ndhJ"><circle r="1086" pathLength="360" class="k" stroke-dasharray="1.36 360" transform="rotate(253.12)"/><circle r="1086" pathLength="360" class="f ND" stroke-dasharray="1.2 360" transform="rotate(253.2)"/><text class="s" x="-1040" transform="rotate(73.6)">ndhJ</text></g>
<g id="trnF-GAA"><line class="t TR" y1="-1122" y2="-1194" transform="rotate(345.8)"/><text class="e" x="-1204" transform="rotate(75.6)">trnF-GAA</text></g>
<g id="trnL-UAA"><circle r="1158" pathLength="360" class="k" stroke-dasharray="1.36 360" transform="rotate(256.72)"/><circle r="1158" pathLength="360" class="f W" stroke-dasharray="1.2 360" transform="rotate(256.8)"/><line class="t TR" y1="-1122" y2="-1194" transform="rotate(346.9)"/><text class="e" x="-1204" transform="rotate(77.3)">trnL-UAA*</text></g>
<g id="trnT-UGU"><line class="t TR" y1="-1050" y2="-1122" transform="rotate(349.9)"/><text class="s" x="-1040" transform="rotate(79.7)">trnT-UGU</text></g>
<g id="rps4"><circle r="1086" pathLength="360" class="k" stroke-dasharray="1.56 360" transform="rotate(260.62)"/><circle r="1086" pathLength="360" class="f SS" stroke-dasharray="1.4 360" transform="rotate(260.7)"/><text class="s" x="-1040" transform="rotate(81.6)">rps4</text></g>
<g id="trnS-GGA"><line class="t TR" y1="-1122" y2="-1194" transform="rotate(352.9)"/><text class="e" x="-1204" transform="rotate(82.8)">trnS-GGA</text></g>
</g>
<g id="outer-ring">
<circle r="1122" stroke="#000" stroke-width="7"/>
<circle r="1126" pathLength="360" stroke="#000" stroke-width="15" stroke-dasharray="58.87 360" transform="rotate(9.84)"/>
<circle r="1126" pathLength="360" stroke="#000" stroke-width="15" stroke-dasharray="58.87 360" transform="rotate(111.29)"/>
</g>
<g id="connectors">
<polyline class="ld" transform="rotate(12.5)" points="0,-1048 0,-972 -8.2,-940"/>
<polyline class="ld" transform="rotate(13.2)" points="0,-1048 0,-972 9.8,-940"/>
<polyline class="ld" transform="rotate(72.4)" points="0,-1048 0,-972 -24.6,-940"/>
<polyline class="ld" transform="rotate(72.9)" points="0,-1048 0,-972 -3.3,-940"/>
<polyline class="ld" transform="rotate(73.4)" points="0,-1048 0,-972 18.1,-940"/>
<polyline class="ld" transform="rotate(74.9)" points="0,-1048 0,-972 23,-940"/>
<polyline class="ld" transform="rotate(92.6)" points="0,-1048 0,-972 -4.9,-940"/>
<polyline class="ld" transform="rotate(93.4)" points="0,-1048 0,-972 9.8,-940"/>
<polyline class="ld" transform="rotate(153.55)" points="0,-1048 0,-972 -20.5,-940"/>
<polyline class="ld" transform="rotate(154.15)" points="0,-1048 0,-972 -2.5,-940"/>
<polyline class="ld" transform="rotate(155)" points="0,-1048 0,-972 13.1,-940"/>
<polyline class="ld" transform="rotate(254.95)" points="0,-1048 0,-972 -7.4,-940"/>
<polyline class="ld" transform="rotate(255.65)" points="0,-1048 0,-972 9,-940"/>
<polyline class="ld" transform="rotate(260.85)" points="0,-1048 0,-972 -18.9,-940"/>
<polyline class="ld" transform="rotate(261.95)" points="0,-1048 0,-972 -7.4,-940"/>
<polyline class="ld" transform="rotate(263.2)" points="0,-1048 0,-972 0,-940"/>
<polyline class="ld" transform="rotate(266)" points="0,-1048 0,-972 -16.4,-940"/>
<polyline class="ld" transform="rotate(268.35)" points="0,-1048 0,-972 -27.1,-940"/>
<polyline class="ld" transform="rotate(269.55)" points="0,-1048 0,-972 -18.9,-940"/>
<polyline class="ld" transform="rotate(270.6)" points="0,-1048 0,-972 -8.2,-940"/>
<polyline class="ld" transform="rotate(271.25)" points="0,-1048 0,-972 9,-940"/>
<polyline class="ld" transform="rotate(271.95)" points="0,-1048 0,-972 25.4,-940"/>
<polyline class="ld" transform="rotate(273.7)" points="0,-1048 0,-972 24.6,-940"/>
<polyline class="ld" transform="rotate(301.8)" points="0,-1048 0,-972 -16.4,-940"/>
<polyline class="ld" transform="rotate(302.4)" points="0,-1048 0,-972 1.6,-940"/>
<polyline class="ld" transform="rotate(307.3)" points="0,-1048 0,-972 -50.9,-940"/>
<polyline class="ld" transform="rotate(307.85)" points="0,-1048 0,-972 -30.4,-940"/>
<polyline class="ld" transform="rotate(308.25)" points="0,-1048 0,-972 -7.4,-940"/>
<polyline class="ld" transform="rotate(308.65)" points="0,-1048 0,-972 15.6,-940"/>
<polyline class="ld" transform="rotate(340.85)" points="0,-1048 0,-972 5.7,-940"/>
<polyline class="ld" transform="rotate(342.25)" points="0,-1048 0,-972 10.7,-940"/>
<polyline class="ld" transform="rotate(14.4)" points="0,-1196 0,-1262 -4.6,-1306"/>
<polyline class="ld" transform="rotate(15.5)" points="0,-1196 0,-1262 2.3,-1306"/>
<polyline class="ld" transform="rotate(104.35)" points="0,-1196 0,-1262 -19.4,-1306"/>
<polyline class="ld" transform="rotate(105.05)" points="0,-1196 0,-1262 -3.4,-1306"/>
<polyline class="ld" transform="rotate(205)" points="0,-1196 0,-1262 -13.7,-1306"/>
<polyline class="ld" transform="rotate(205.85)" points="0,-1196 0,-1262 -3.4,-1306"/>
<polyline class="ld" transform="rotate(206.45)" points="0,-1196 0,-1262 12.5,-1306"/>
<polyline class="ld" transform="rotate(283.3)" points="0,-1196 0,-1262 -4.6,-1306"/>
<polyline class="ld" transform="rotate(284.4)" points="0,-1196 0,-1262 0,-1306"/>
<polyline class="ld" transform="rotate(299.15)" points="0,-1196 0,-1262 -12.5,-1306"/>
<polyline class="ld" transform="rotate(299.9)" points="0,-1196 0,-1262 -2.3,-1306"/>
<polyline class="ld" transform="rotate(303.4)" points="0,-1196 0,-1262 -16,-1306"/>
<polyline class="ld" transform="rotate(304)" points="0,-1196 0,-1262 0,-1306"/>
</g>
</g>
<g id="title">
<text class="tt" x="1758" y="1338" style="font-weight:bold;font-style:italic">Aster spathulifolius</text>
<text class="tt" x="1758" y="1455">chloroplast genome</text>
<text class="tt" x="1758" y="1572" style="font-size:64px">152,732 bp</text>
</g>
<g id="legend">
<rect class="lr" x="40" y="2376" width="35" height="36" fill="#00652e"/><text class="lg" x="88" y="2394">photosystem I</text>
<rect class="lr" x="40" y="2419.5" width="35" height="36" fill="#2e8b2a"/><text class="lg" x="88" y="2437.5">photosystem II</text>
<rect class="lr" x="40" y="2463" width="35" height="36" fill="#7a9a16"/><text class="lg" x="88" y="2481">cytochrome b/f complex</text>
<rect class="lr" x="40" y="2506.5" width="35" height="36" fill="#9cbe14"/><text class="lg" x="88" y="2524.5">ATP synthase</text>
<rect class="lr" x="40" y="2550" width="35" height="36" fill="#ffec00"/><text class="lg" x="88" y="2568">NADH dehydrogenase</text>
<rect class="lr" x="40" y="2593.5" width="35" height="36" fill="#23a02b"/><text class="lg" x="88" y="2611.5">RubisCO large subunit</text>
<rect class="lr" x="40" y="2637" width="35" height="36" fill="#bd1321"/><text class="lg" x="88" y="2655">RNA polymerase</text>
<rect class="lr" x="40" y="2680.5" width="35" height="36" fill="#dba870"/><text class="lg" x="88" y="2698.5">ribosomal proteins (SSU)</text>
<rect class="lr" x="40" y="2724" width="35" height="36" fill="#a27e47"/><text class="lg" x="88" y="2742">ribosomal proteins (LSU)</text>
<rect class="lr" x="40" y="2767.5" width="35" height="36" fill="#e8601a"/><text class="lg" x="88" y="2785.5">clpP, matK</text>
<rect class="lr" x="40" y="2811" width="35" height="36" fill="#a62399"/><text class="lg" x="88" y="2829">other genes</text>
<rect class="lr" x="40" y="2854.5" width="35" height="36" fill="#fff9d1"/><text class="lg" x="88" y="2872.5">hypothetical chloroplast reading frames (ycf)</text>
<rect class="lr" x="40" y="2898" width="35" height="36" fill="#5bbaa7"/><text class="lg" x="88" y="2916">ORFs</text>
<rect class="lr" x="40" y="2941.5" width="35" height="36" fill="#182b86"/><text class="lg" x="88" y="2959.5">transfer RNAs</text>
<rect class="lr" x="40" y="2985" width="35" height="36" fill="#e0001a"/><text class="lg" x="88" y="3003">ribosomal RNAs</text>
<rect class="lr" x="40" y="3028.5" width="35" height="36" fill="#ff8080"/><text class="lg" x="88" y="3046.5">origin of replication</text>
<rect class="lr" x="40" y="3072" width="35" height="36" fill="#ff00ff"/><text class="lg" x="88" y="3090">polycistronic transcripts</text>
<rect class="lr" x="40" y="3115.5" width="35" height="36" fill="#ffffff"/><text class="lg" x="88" y="3133.5">introns</text>
</g>
</svg>
